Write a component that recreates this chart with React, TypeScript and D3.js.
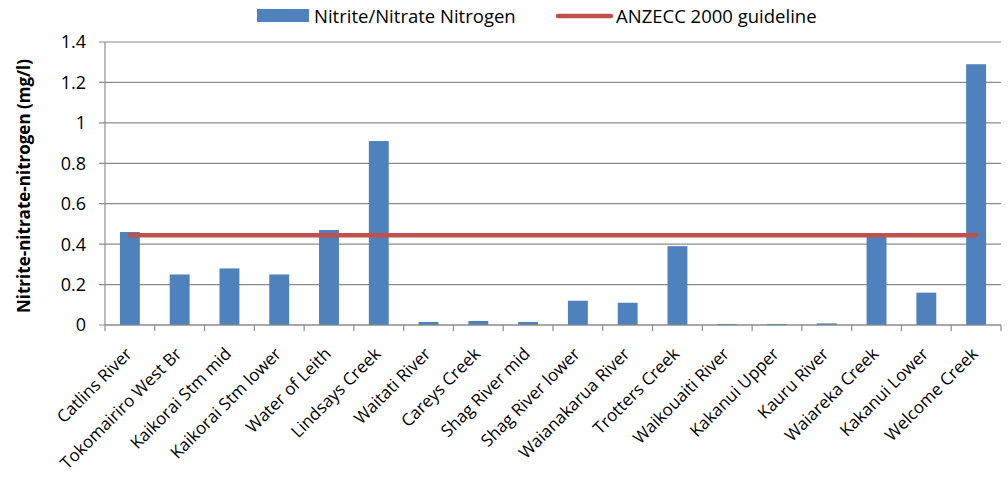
import React from "react";
import * as d3 from "d3";

const sites = [
  "Catlins River",
  "Tokomairiro West Br",
  "Kaikorai Stm mid",
  "Kaikorai Stm lower",
  "Water of Leith",
  "Lindsays Creek",
  "Waitati River",
  "Careys Creek",
  "Shag River mid",
  "Shag River lower",
  "Waianakarua River",
  "Trotters Creek",
  "Waikouaiti River",
  "Kakanui Upper",
  "Kauru River",
  "Waiareka Creek",
  "Kakanui Lower",
  "Welcome Creek",
];

const nitrogen = [
  0.46, 0.25, 0.28, 0.25, 0.47, 0.91, 0.015, 0.02, 0.015, 0.12, 0.11, 0.39,
  0.005, 0.005, 0.008, 0.44, 0.16, 1.29,
];

const guideline = 0.444;

const yTicks = [0, 0.2, 0.4, 0.6, 0.8, 1, 1.2, 1.4];

const seriesNames = ["Nitrite/Nitrate Nitrogen", "ANZECC 2000 guideline"];

const W = 1008;
const H = 477;
const M = { left: 105, right: 1001, top: 42, bottom: 325 };
const FONT = "'Open Sans', Lato, sans-serif";
const GRID = "#8c8c8c";
const BLUE = "#4f81bd";
const RED = "#c0504d";

export default function App() {
  const x = d3
    .scaleBand<string>()
    .domain(sites)
    .range([M.left, M.right])
    .paddingInner(0.6)
    .paddingOuter(0.3);
  const step = x.step();
  const y = d3.scaleLinear().domain([0, 1.4]).range([M.bottom, M.top]);

  const center = (s: string) => (x(s) ?? 0) + x.bandwidth() / 2;
  const linePath = d3
    .line<string>()
    .x((s) => center(s))
    .y(() => y(guideline))(sites);

  const boundaries = d3.range(sites.length + 1).map((i) => M.left + i * step);

  return (
    <svg
      width={W}
      height={H}
      style={{ position: "absolute", left: 0, top: 0, background: "#fff" }}
      fontFamily={FONT}
    >
      {/* gridlines */}
      {yTicks.map((t) => (
        <line
          key={"g" + t}
          x1={M.left - 6}
          x2={M.right}
          y1={y(t)}
          y2={y(t)}
          stroke={GRID}
          strokeWidth={1.2}
        />
      ))}
      {/* y axis */}
      <line x1={M.left} x2={M.left} y1={M.top} y2={M.bottom} stroke={GRID} strokeWidth={1.2} />
      {yTicks.map((t) => (
        <text
          key={"yl" + t}
          x={86}
          y={y(t)}
          dy="0.36em"
          textAnchor="end"
          fontSize={18}
          fill="#000"
        >
          {d3.format("~g")(t)}
        </text>
      ))}
      <text
        transform={`translate(24,186) rotate(-90)`}
        textAnchor="middle"
        dy="0.35em"
        fontSize={17}
        fontWeight="bold"
        fill="#000"
      >
        Nitrite-nitrate-nitrogen (mg/l)
      </text>

      {/* bars */}
      {sites.map((s, i) => (
        <rect
          key={"b" + s}
          x={x(s)}
          y={y(nitrogen[i])}
          width={x.bandwidth()}
          height={M.bottom - y(nitrogen[i])}
          fill={BLUE}
        />
      ))}

      {/* x axis */}
      <line x1={M.left} x2={M.right} y1={M.bottom} y2={M.bottom} stroke={GRID} strokeWidth={1.2} />
      {boundaries.map((bx, i) => (
        <line
          key={"xt" + i}
          x1={bx}
          x2={bx}
          y1={M.bottom}
          y2={M.bottom + 6}
          stroke={GRID}
          strokeWidth={1.2}
        />
      ))}
      {sites.map((s) => (
        <text
          key={"xl" + s}
          transform={`translate(${center(s) + 3},${M.bottom + 30}) rotate(-45)`}
          textAnchor="end"
          fontSize={17}
          fill="#000"
        >
          {s}
        </text>
      ))}

      {/* guideline */}
      <path d={linePath ?? ""} stroke={RED} strokeWidth={4.5} strokeLinecap="round" fill="none" />

      {/* legend */}
      <rect x={257} y={9} width={52} height={13} fill={BLUE} />
      <text x={314} y={16} dy="0.36em" fontSize={18.5} fill="#000">
        {seriesNames[0]}
      </text>
      <line x1={558} x2={611} y1={16} y2={16} stroke={RED} strokeWidth={4.5} strokeLinecap="round" />
      <text x={616} y={16} dy="0.36em" fontSize={18.5} fill="#000">
        {seriesNames[1]}
      </text>
    </svg>
  );
}
